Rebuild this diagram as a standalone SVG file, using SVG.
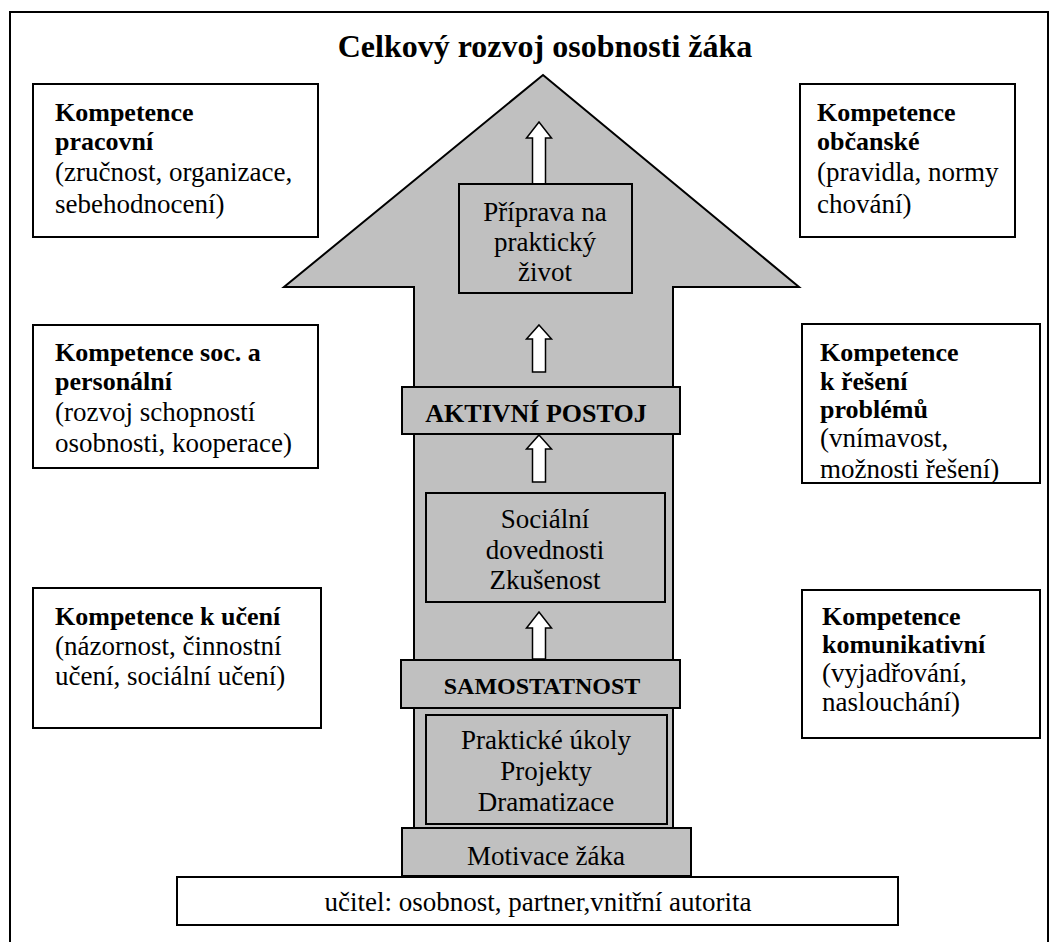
<svg xmlns="http://www.w3.org/2000/svg" width="1053" height="942" viewBox="0 0 1053 942">
<style>
text{font-family:"Liberation Serif","Times New Roman",serif;fill:#000}
.t{font-size:27px}
.b{font-weight:bold;font-size:26px}
.c{text-anchor:middle}
.box{fill:#fff;stroke:#000;stroke-width:2}
.gbox{fill:#c0c0c0;stroke:#000;stroke-width:2}
.ha{fill:#fff;stroke:#000;stroke-width:1.5;stroke-linejoin:miter}
</style>
<defs>
<clipPath id="clipR2"><rect x="802" y="324" width="238" height="159"/></clipPath>
</defs>
<rect x="0" y="0" width="1053" height="942" fill="#fff"/>
<rect id="frame" x="10" y="12" width="1038" height="945" fill="none" stroke="#000" stroke-width="2"/>
<text id="title" class="c" font-weight="bold" x="545" y="57" font-size="32">Celkový rozvoj osobnosti žáka</text>

<g id="bigArrow">
<path d="M543,75 L799,287 L673,287 L673,830 L414,830 L414,287 L284,287 Z" fill="#c0c0c0" stroke="#000" stroke-width="2"/>
</g>

<g id="connectors">
<path class="ha" d="M539,122 L551.5,138 L545.5,138 L545.5,184 L532.5,184 L532.5,138 L526.5,138 Z"/>
<path class="ha" d="M539,325 L551.5,339 L545.5,339 L545.5,372 L532.5,372 L532.5,339 L526.5,339 Z"/>
<path class="ha" d="M539,435 L551.5,449 L545.5,449 L545.5,482 L532.5,482 L532.5,449 L526.5,449 Z"/>
<path class="ha" d="M539,612 L551.5,628 L545.5,628 L545.5,659 L532.5,659 L532.5,628 L526.5,628 Z"/>
</g>

<g id="priprava">
<rect class="gbox" x="459" y="184" width="173" height="109" stroke-width="1.5"/>
<text class="t c" x="545" y="221">Příprava na</text>
<text class="t c" x="545" y="251">praktický</text>
<text class="t c" x="545" y="281">život</text>
</g>

<g id="aktivni">
<rect class="gbox" x="402" y="387" width="278" height="47"/>
<text class="b c" x="536" y="422">AKTIVNÍ POSTOJ</text>
</g>

<g id="socialni">
<rect class="gbox" x="426" y="493" width="239" height="109" stroke-width="1.5"/>
<text class="t c" x="545" y="528">Sociální</text>
<text class="t c" x="545" y="559">dovednosti</text>
<text class="t c" x="545" y="589">Zkušenost</text>
</g>

<g id="samostatnost">
<rect class="gbox" x="401" y="660" width="279" height="48" stroke-width="3.5"/>
<text class="c" font-weight="bold" font-size="24" x="542" y="694">SAMOSTATNOST</text>
</g>

<g id="prakticke">
<rect class="gbox" x="426" y="715" width="241" height="109" stroke-width="1.5"/>
<text class="t c" x="546" y="749">Praktické úkoly</text>
<text class="t c" x="546" y="780">Projekty</text>
<text class="t c" x="546" y="811">Dramatizace</text>
</g>

<g id="motivace">
<rect class="gbox" x="402" y="828" width="289" height="48"/>
<text class="t c" x="546" y="865">Motivace žáka</text>
</g>

<g id="ucitel">
<rect class="box" x="177" y="877" width="721" height="48"/>
<text class="t c" x="538" y="911">učitel: osobnost, partner,vnitřní autorita</text>
</g>

<g id="kPracovni">
<rect class="box" x="33" y="84" width="285" height="153"/>
<text class="b" x="55" y="121">Kompetence</text>
<text class="b" x="55" y="150">pracovní</text>
<text class="t" x="55" y="181">(zručnost, organizace,</text>
<text class="t" x="55" y="213">sebehodnocení)</text>
</g>

<g id="kSoc">
<rect class="box" x="33" y="325" width="285" height="143"/>
<text class="b" x="55" y="361">Kompetence soc. a</text>
<text class="b" x="55" y="390">personální</text>
<text class="t" x="55" y="421">(rozvoj schopností</text>
<text class="t" x="55" y="452">osobnosti, kooperace)</text>
</g>

<g id="kUceni">
<rect class="box" x="33" y="588" width="288" height="140"/>
<text class="b" x="55" y="625">Kompetence k učení</text>
<text class="t" x="55" y="655">(názornost, činnostní</text>
<text class="t" x="55" y="685">učení, sociální učení)</text>
</g>

<g id="kObcanske">
<rect class="box" x="800" y="84" width="215" height="153"/>
<text class="b" x="817" y="121">Kompetence</text>
<text class="b" x="817" y="150">občanské</text>
<text class="t" x="817" y="181">(pravidla, normy</text>
<text class="t" x="817" y="213">chování)</text>
</g>

<g id="kReseni">
<rect class="box" x="802" y="324" width="238" height="159"/>
<g clip-path="url(#clipR2)">
<text class="b" x="820" y="361">Kompetence</text>
<text class="b" x="820" y="390">k řešení</text>
<text class="b" x="820" y="418">problémů</text>
<text class="t" x="820" y="447">(vnímavost,</text>
<text class="t" x="820" y="478">možnosti řešení)</text>
</g>
</g>

<g id="kKomunikativni">
<rect class="box" x="802" y="590" width="238" height="148"/>
<text class="b" x="822" y="625">Kompetence</text>
<text class="b" x="822" y="653">komunikativní</text>
<text class="t" x="822" y="682">(vyjadřování,</text>
<text class="t" x="822" y="711">naslouchání)</text>
</g>
</svg>
